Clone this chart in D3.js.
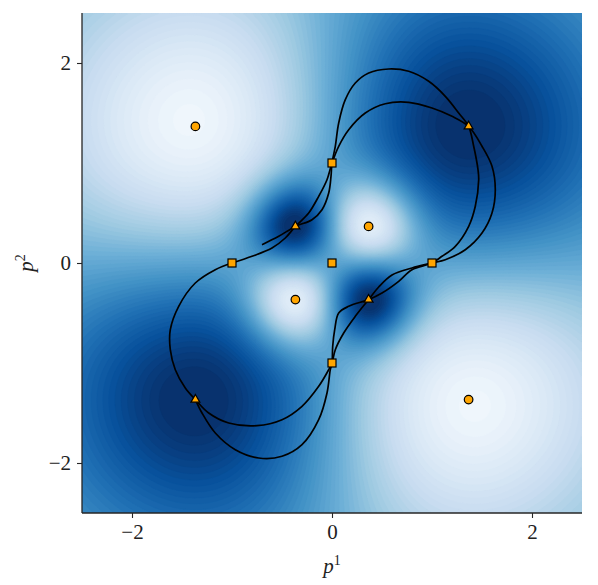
<!DOCTYPE html>
<html><head><meta charset="utf-8">
<script src="https://cdn.jsdelivr.net/npm/d3@7"></script>
<style>body{margin:0;background:#fff}</style>
</head><body>
<svg id="c" width="598" height="585"></svg>
<script>
// ---- data ----
const xDomain = [-2.5, 2.5];
const yDomain = [-2.5, 2.5];
const xTicks = [-2, 0, 2];
const yTicks = [-2, 0, 2];
// field: base level plus bumps (light = negative, dark = positive)
const baseLevel = 0.5;
const bumpX     = [-1.22, 1.22, 1.2, -1.2, 0.366, -0.366, -0.366, 0.366];
const bumpY     = [1.22, -1.22, 1.2, -1.2, 0.366, -0.366, 0.366, -0.366];
const bumpAmp   = [-0.56, -0.56, 0.6, 0.6, -0.62, -0.62, 0.64, 0.64];
const bumpSigma = [1.12, 1.12, 1.15, 1.15, 0.33, 0.33, 0.32, 0.32];
// markers
const circleX = [-1.366, 0.366, -0.366, 1.366];
const circleY = [1.366, 0.366, -0.366, -1.366];
const triX = [-0.366, 1.366, 0.366, -1.366];
const triY = [0.366, 1.366, -0.366, -1.366];
const squareX = [0, -1, 0, 1, 0];
const squareY = [1, 0, 0, 0, -1];
// curves
const curveB = [[-1,0],[-0.8,0.067],[-0.6,0.15],[-0.467,0.25],[-0.366,0.366],
  [-0.233,0.5],[-0.133,0.667],[-0.05,0.833],[0,1],
  [0.067,1.167],[0.167,1.333],[0.333,1.5],[0.533,1.593],[0.767,1.607],[1.0,1.55],[1.2,1.467],[1.366,1.366],
  [1.5,1.167],[1.6,0.967],[1.633,0.733],[1.6,0.5],[1.5,0.3],[1.333,0.133],[1.133,0.033],[1,0],
  [0.8,-0.05],[0.6,-0.12],[0.467,-0.24],[0.366,-0.366],
  [0.233,-0.533],[0.117,-0.7],[0.033,-0.867],[0,-1],
  [-0.033,-1.067],[-0.133,-1.233],[-0.3,-1.433],[-0.5,-1.567],[-0.75,-1.627],[-1.033,-1.6],[-1.233,-1.5],[-1.366,-1.366],
  [-1.467,-1.25],[-1.567,-1.067],[-1.617,-0.867],[-1.617,-0.667],[-1.533,-0.433],[-1.367,-0.2],[-1.167,-0.067],[-1,0]];
const curveA = [[-0.7,0.183],[-0.533,0.267],[-0.366,0.366],
  [-0.2,0.433],[-0.1,0.533],[-0.033,0.7],[-0.01,0.867],[0,1],
  [0.033,1.167],[0.067,1.4],[0.133,1.633],[0.233,1.8],[0.367,1.9],[0.567,1.94],[0.767,1.917],[0.967,1.817],[1.133,1.667],[1.267,1.5],[1.366,1.366],
  [1.417,1.167],[1.46,0.933],[1.467,0.833],[1.433,0.567],[1.367,0.367],[1.233,0.167],[1.1,0.067],[1,0],
  [0.8,-0.067],[0.667,-0.183],[0.5,-0.3],[0.366,-0.366],
  [0.167,-0.433],[0.067,-0.5],[0.027,-0.667],[0.007,-0.833],[0,-1],
  [-0.017,-1.067],[-0.05,-1.3],[-0.133,-1.567],[-0.3,-1.817],[-0.5,-1.933],[-0.733,-1.95],[-0.967,-1.867],[-1.167,-1.7],[-1.3,-1.5],[-1.366,-1.366]];

// ---- layout ----
const L = 82, R = 582, T = 13, B = 513;
const svg = d3.select("#c");
const x = d3.scaleLinear().domain(xDomain).range([L, R]);
const y = d3.scaleLinear().domain(yDomain).range([B, T]);

// ---- field ----
const n = 220;
const values = new Float64Array(n * n);
for (let j = 0; j < n; j++) {
  const py = yDomain[1] - (j + 0.5) * (yDomain[1] - yDomain[0]) / n;
  for (let i = 0; i < n; i++) {
    const px = xDomain[0] + (i + 0.5) * (xDomain[1] - xDomain[0]) / n;
    let v = baseLevel;
    for (let k = 0; k < bumpX.length; k++) {
      const dx = px - bumpX[k], dy = py - bumpY[k];
      v += bumpAmp[k] * Math.exp(-(dx*dx + dy*dy) / (2 * bumpSigma[k] * bumpSigma[k]));
    }
    values[j * n + i] = Math.max(0.0005, Math.min(0.9995, v));
  }
}
const nLev = 60;
const thresholds = d3.range(nLev).map(k => k / nLev);
const blues = d3.scaleLinear().domain(d3.range(9).map(k => k / 8)).range(d3.schemeBlues[9]).interpolate(d3.interpolateRgb);
const contours = d3.contours().size([n, n]).thresholds(thresholds)(values);
const proj = d3.geoTransform({
  point: function(gx, gy) {
    this.stream.point(x(xDomain[0] + gx * (xDomain[1]-xDomain[0]) / n), y(yDomain[1] - gy * (yDomain[1]-yDomain[0]) / n));
  }
});
const path = d3.geoPath(proj);
svg.append("defs").append("clipPath").attr("id","clip").append("rect")
  .attr("x", L).attr("y", T).attr("width", R-L).attr("height", B-T);
const g = svg.append("g").attr("clip-path","url(#clip)");
g.selectAll("path.c").data(contours).join("path")
  .attr("d", path)
  .attr("fill", d => blues(d.value + 0.5 / nLev))
  .attr("stroke", d => blues(d.value + 0.5 / nLev)).attr("stroke-width", 0.3);

// ---- curves ----
const line = d3.line().x(d => x(d[0])).y(d => y(d[1])).curve(d3.curveCatmullRom.alpha(0.5));
g.append("path").attr("d", line(curveB)).attr("fill","none").attr("stroke","#000").attr("stroke-width",1.7);
g.append("path").attr("d", line(curveA)).attr("fill","none").attr("stroke","#000").attr("stroke-width",1.7);

// ---- markers ----
const orange = "#ffa500";
g.selectAll("circle.m").data(circleX.map((v,i)=>[v,circleY[i]])).join("circle")
  .attr("cx", d => x(d[0])).attr("cy", d => y(d[1])).attr("r", 4.3)
  .attr("fill", orange).attr("stroke", "#000").attr("stroke-width", 1.2);
const triSym = d3.symbol().type(d3.symbolTriangle).size(34);
g.selectAll("path.t").data(triX.map((v,i)=>[v,triY[i]])).join("path")
  .attr("transform", d => `translate(${x(d[0])},${y(d[1])})`).attr("d", triSym)
  .attr("fill", orange).attr("stroke", "#000").attr("stroke-width", 1.2);
g.selectAll("rect.s").data(squareX.map((v,i)=>[v,squareY[i]])).join("rect")
  .attr("x", d => x(d[0]) - 4).attr("y", d => y(d[1]) - 4).attr("width", 8).attr("height", 8)
  .attr("fill", orange).attr("stroke", "#000").attr("stroke-width", 1.2);

// ---- axes ----
const font = "'Liberation Serif', 'DejaVu Serif', serif";
const fmt = v => v < 0 ? "\u2212" + Math.abs(v) : String(v);
const ax = svg.append("g").attr("transform", `translate(0,${B})`)
  .call(d3.axisBottom(x).tickValues(xTicks).tickSize(5).tickPadding(6).tickFormat(fmt));
const ay = svg.append("g").attr("transform", `translate(${L},0)`)
  .call(d3.axisLeft(y).tickValues(yTicks).tickSize(5).tickPadding(6).tickFormat(fmt));
[ax, ay].forEach(a => {
  a.select(".domain").attr("stroke", "#262626").attr("stroke-width", 1.3);
  a.selectAll(".tick line").attr("stroke", "#262626").attr("stroke-width", 1.1);
  a.selectAll("text").attr("font-family", font).attr("font-size", 21).attr("fill", "#222");
});
ay.select(".domain").attr("d", `M-0,${B}V${T}`);
ax.select(".domain").attr("d", `M${L},0H${R}`);

svg.append("text").attr("x", (L+R)/2).attr("y", 573).attr("text-anchor","middle")
  .attr("font-family", font).attr("font-size", 21).attr("fill","#222")
  .html('<tspan font-style="italic">p</tspan><tspan font-size="14" dy="-8">1</tspan>');
svg.append("text").attr("transform", `translate(33,${(T+B)/2}) rotate(-90)`).attr("text-anchor","middle")
  .attr("font-family", font).attr("font-size", 21).attr("fill","#222")
  .html('<tspan font-style="italic">p</tspan><tspan font-size="14" dy="-8">2</tspan>');
</script>
</body></html>
